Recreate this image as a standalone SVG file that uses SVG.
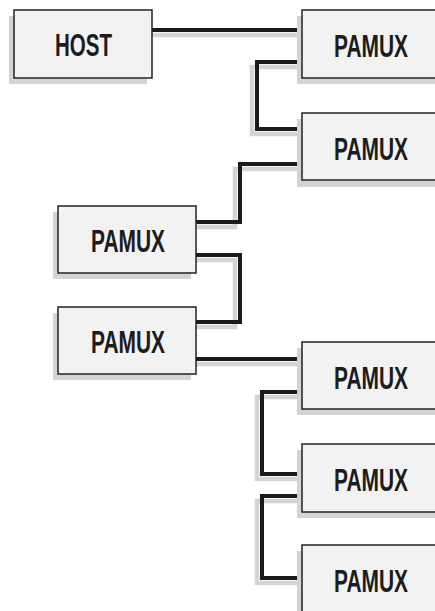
<svg xmlns="http://www.w3.org/2000/svg" width="435" height="611" viewBox="0 0 435 611">
<style>
.sh{fill:#d4d4d4;stroke:none}
.bx{fill:#f2f2f2;stroke:#222;stroke-width:1.5}
.lb{font-family:"Liberation Sans",Arial,sans-serif;font-weight:bold;font-size:31px;fill:#1c1c1c;text-anchor:middle}
.ln{fill:none;stroke:#1a1a1a;stroke-width:4}
.lns{fill:none;stroke:#d4d4d4;stroke-width:4.5}
</style>
<rect width="435" height="611" fill="#fff"/>
<g id="connectors">
<g transform="translate(-5,5)">
<path class="lns" d="M152,30 H302"/>
<path class="lns" d="M302,62 H257 V129 H302"/>
<path class="lns" d="M302,164 H240 V222 H196"/>
<path class="lns" d="M196,255 H240 V322 H196"/>
<path class="lns" d="M196,359 H302"/>
<path class="lns" d="M302,392 H262 V474 H302"/>
<path class="lns" d="M302,496 H262 V578 H302"/>
</g>
<path class="ln" d="M152,30 H302"/>
<path class="ln" d="M302,62 H257 V129 H302"/>
<path class="ln" d="M302,164 H240 V222 H196"/>
<path class="ln" d="M196,255 H240 V322 H196"/>
<path class="ln" d="M196,359 H302"/>
<path class="ln" d="M302,392 H262 V474 H302"/>
<path class="ln" d="M302,496 H262 V578 H302"/>
</g>
<g id="host"><rect class="sh" x="9" y="16" width="138" height="68"/><rect class="bx" x="14" y="10" width="138" height="68"/><text class="lb" x="83.5" y="56" textLength="57" lengthAdjust="spacingAndGlyphs">HOST</text></g>
<g id="pamux1"><rect class="sh" x="297" y="16" width="138" height="68"/><rect class="bx" x="302" y="10" width="134" height="68"/><text class="lb" x="371" y="57" textLength="74" lengthAdjust="spacingAndGlyphs">PAMUX</text></g>
<g id="pamux2"><rect class="sh" x="297" y="119" width="138" height="68"/><rect class="bx" x="302" y="113" width="134" height="67"/><text class="lb" x="371" y="159.5" textLength="74" lengthAdjust="spacingAndGlyphs">PAMUX</text></g>
<g id="pamux3"><rect class="sh" x="53" y="212" width="138" height="67"/><rect class="bx" x="58" y="206" width="138" height="67"/><text class="lb" x="128" y="252" textLength="74" lengthAdjust="spacingAndGlyphs">PAMUX</text></g>
<g id="pamux4"><rect class="sh" x="53" y="313" width="138" height="67"/><rect class="bx" x="58" y="307" width="138" height="67"/><text class="lb" x="128" y="353" textLength="74" lengthAdjust="spacingAndGlyphs">PAMUX</text></g>
<g id="pamux5"><rect class="sh" x="297" y="348" width="138" height="67"/><rect class="bx" x="302" y="342" width="134" height="67"/><text class="lb" x="371" y="388.5" textLength="74" lengthAdjust="spacingAndGlyphs">PAMUX</text></g>
<g id="pamux6"><rect class="sh" x="297" y="450" width="138" height="68"/><rect class="bx" x="302" y="444" width="134" height="68"/><text class="lb" x="371" y="490.5" textLength="74" lengthAdjust="spacingAndGlyphs">PAMUX</text></g>
<g id="pamux7"><rect class="sh" x="297" y="551" width="138" height="68"/><rect class="bx" x="302" y="545" width="134" height="68"/><text class="lb" x="371" y="591.5" textLength="74" lengthAdjust="spacingAndGlyphs">PAMUX</text></g>
</svg>
